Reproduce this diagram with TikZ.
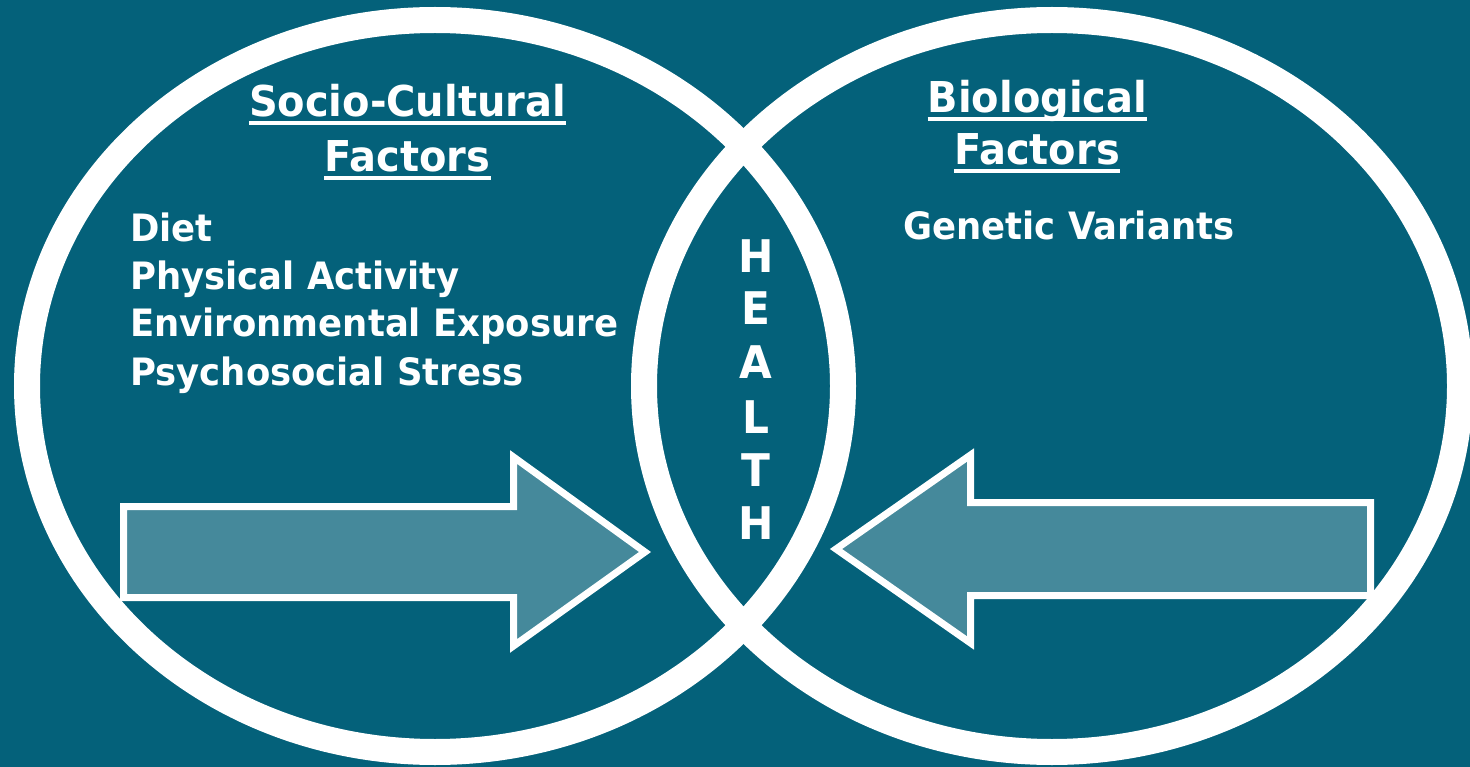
\documentclass[tikz,border=0pt]{standalone}
\usepackage{fontspec}
\setmainfont{DejaVu Sans}[FakeStretch=0.94]
\definecolor{bg}{RGB}{4,97,122}
\definecolor{arrowfill}{RGB}{69,137,155}
\begin{document}
\begin{tikzpicture}[x=1pt,y=-1pt,
  ring/.style={draw=white,line width=26pt},
  bigarrow/.style={draw=white,fill=arrowfill,line width=7pt,line join=miter},
  head/.style={text=white,font=\fontsize{42.5}{50}\selectfont\bfseries,inner sep=0pt,anchor=base},
  item/.style={text=white,font=\fontsize{37.7}{48}\selectfont\bfseries,inner sep=0pt,anchor=base west},
  letter/.style={text=white,font=\fontsize{45}{50}\selectfont\bfseries,inner sep=0pt,anchor=base},
  uline/.style={draw=white,line width=3.5pt}]
\fill[bg] (0,0) rectangle (1470,767);
\useasboundingbox (0,0) rectangle (1470,767);
% arrows
\draw[bigarrow] (123.5,506.5) -- (513.5,506.5) -- (513.5,457) -- (645,552) -- (513.5,646) -- (513.5,597.5) -- (123.5,597.5) -- cycle;
\draw[bigarrow] (1370.5,502.5) -- (970.5,502.5) -- (970.5,455) -- (836,549) -- (970.5,643) -- (970.5,595.5) -- (1370.5,595.5) -- cycle;
% rings
\draw[ring] (435,386) ellipse [x radius=408, y radius=366];
\draw[ring] (1052,386) ellipse [x radius=408, y radius=366];
% headings
\node[head] (sc1) at (407.5,117) {Socio-Cultural};
\node[head] (sc2) at (407.5,172) {Factors};
\node[head] (bf1) at (1037.5,113) {Biological};
\node[head] (bf2) at (1037,165) {Factors};
\foreach \n in {sc1,sc2,bf1,bf2}
  \draw[uline] ([yshift=-6pt]\n.base west) -- ([yshift=-6pt]\n.base east);
% lists
\node[item] (d1) at (130,242) {Diet};
\node[item] (d2) at (130,289.5) {Physical Activity};
\node[item] (d3) at (130,337) {Environmental Exposure};
\node[item] (d4) at (130,385) {Psychosocial Stress};
\node[item] (gv) at (903,240) {Genetic Variants};
% HEALTH
\foreach \c/\y [count=\i] in {H/273,E/325,A/378,L/433,T/486,H/539}
  \node[letter] (h\i) at (756,\y) {\c};
\end{tikzpicture}
\end{document}
